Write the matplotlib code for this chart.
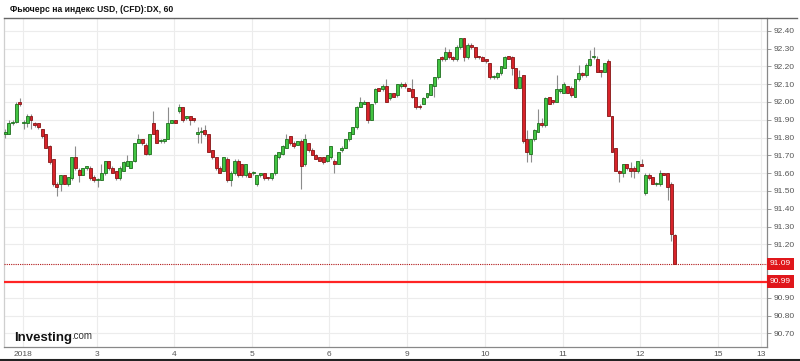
import numpy as np
import matplotlib.pyplot as plt
from matplotlib.transforms import blended_transform_factory

# hourly candles, USD index futures (2 Jan .. 12 Jan 2018)
opens = [91.82, 91.82, 91.88, 91.89, 92.00, 91.88, 91.88, 91.92, 91.88, 91.88,
         91.85, 91.82, 91.75, 91.68, 91.54, 91.54, 91.59, 91.54, 91.57, 91.69,
         91.62, 91.59, 91.63, 91.63, 91.58, 91.56, 91.56, 91.60, 91.67, 91.63,
         91.61, 91.57, 91.61, 91.64, 91.63, 91.67, 91.77, 91.79, 91.76, 91.71,
         91.88, 91.84, 91.78, 91.78, 91.79, 91.88, 91.90, 91.95, 91.97, 91.91,
         91.92, 91.91, 91.82, 91.83, 91.84, 91.82, 91.73, 91.69, 91.63, 91.61,
         91.68, 91.56, 91.60, 91.67, 91.65, 91.59, 91.60, 91.60, 91.54, 91.59,
         91.60, 91.58, 91.57, 91.60, 91.69, 91.71, 91.74, 91.81, 91.77, 91.76,
         91.78, 91.65, 91.77, 91.73, 91.70, 91.69, 91.69, 91.67, 91.69, 91.67,
         91.65, 91.73, 91.74, 91.79, 91.82, 91.86, 91.97, 91.99, 92.00, 91.90,
         92.00, 92.08, 92.07, 92.09, 92.02, 92.05, 92.04, 92.09, 92.10, 92.08,
         92.07, 92.03, 91.98, 91.99, 92.03, 92.04, 92.09, 92.14, 92.25, 92.24,
         92.28, 92.25, 92.24, 92.31, 92.36, 92.25, 92.32, 92.31, 92.26, 92.25,
         92.24, 92.22, 92.14, 92.14, 92.16, 92.19, 92.26, 92.25, 92.19, 92.08,
         92.15, 91.79, 91.71, 91.79, 91.83, 91.88, 91.87, 92.03, 92.01, 92.00,
         92.06, 92.05, 92.09, 92.08, 92.03, 92.13, 92.16, 92.15, 92.21, 92.25,
         92.24, 92.18, 92.17, 92.23, 91.92, 91.74, 91.61, 91.60, 91.65, 91.63,
         91.63, 91.61, 91.65, 91.49, 91.59, 91.58, 91.54, 91.54, 91.60, 91.60,
         91.54, 91.25]
highs = [91.85, 91.90, 91.90, 92.00, 92.02, 91.90, 91.93, 91.93, 91.89, 91.88,
         91.85, 91.82, 91.76, 91.68, 91.55, 91.59, 91.59, 91.58, 91.69, 91.75,
         91.63, 91.63, 91.64, 91.64, 91.59, 91.57, 91.65, 91.67, 91.67, 91.64,
         91.61, 91.64, 91.67, 91.70, 91.67, 91.77, 91.82, 91.79, 91.77, 91.82,
         91.95, 91.85, 91.79, 91.79, 91.97, 91.90, 91.90, 91.99, 91.97, 91.92,
         91.92, 91.91, 91.86, 91.86, 91.87, 91.82, 91.73, 91.69, 91.64, 91.69,
         91.69, 91.61, 91.68, 91.68, 91.65, 91.65, 91.61, 91.61, 91.59, 91.60,
         91.60, 91.58, 91.60, 91.71, 91.72, 91.76, 91.82, 91.81, 91.78, 91.78,
         91.79, 91.82, 91.77, 91.74, 91.71, 91.69, 91.69, 91.70, 91.75, 91.68,
         91.72, 91.75, 91.79, 91.83, 91.86, 91.98, 92.03, 92.01, 92.00, 91.99,
         92.08, 92.08, 92.10, 92.13, 92.05, 92.05, 92.10, 92.11, 92.11, 92.08,
         92.13, 92.03, 91.99, 92.03, 92.05, 92.10, 92.14, 92.24, 92.26, 92.31,
         92.30, 92.26, 92.32, 92.36, 92.36, 92.33, 92.33, 92.31, 92.26, 92.26,
         92.24, 92.22, 92.15, 92.17, 92.20, 92.26, 92.26, 92.26, 92.19, 92.18,
         92.15, 91.84, 91.79, 91.85, 91.96, 91.91, 92.03, 92.03, 92.01, 92.15,
         92.08, 92.11, 92.09, 92.09, 92.13, 92.21, 92.17, 92.22, 92.29, 92.31,
         92.26, 92.18, 92.22, 92.24, 91.92, 91.74, 91.62, 91.65, 91.65, 91.66,
         91.64, 91.67, 91.68, 91.60, 91.60, 91.58, 91.55, 91.62, 91.60, 91.60,
         91.55, 91.26]
lows = [91.80, 91.82, 91.87, 91.88, 91.98, 91.85, 91.86, 91.85, 91.86, 91.85,
        91.80, 91.74, 91.65, 91.53, 91.47, 91.50, 91.54, 91.53, 91.56, 91.62,
        91.55, 91.59, 91.62, 91.56, 91.55, 91.52, 91.56, 91.59, 91.62, 91.60,
        91.56, 91.56, 91.61, 91.64, 91.63, 91.66, 91.77, 91.76, 91.70, 91.70,
        91.82, 91.77, 91.77, 91.77, 91.79, 91.88, 91.88, 91.94, 91.89, 91.90,
        91.87, 91.89, 91.77, 91.77, 91.81, 91.72, 91.68, 91.62, 91.60, 91.61,
        91.55, 91.53, 91.59, 91.58, 91.58, 91.58, 91.58, 91.59, 91.53, 91.58,
        91.56, 91.56, 91.56, 91.59, 91.68, 91.70, 91.74, 91.76, 91.74, 91.76,
        91.51, 91.64, 91.72, 91.70, 91.68, 91.67, 91.65, 91.66, 91.68, 91.60,
        91.65, 91.72, 91.74, 91.78, 91.82, 91.85, 91.97, 91.99, 91.88, 91.90,
        91.99, 92.06, 92.06, 92.00, 92.01, 92.03, 92.03, 92.08, 92.08, 92.06,
        92.02, 91.96, 91.96, 91.99, 92.02, 92.04, 92.03, 92.13, 92.23, 92.23,
        92.24, 92.23, 92.23, 92.30, 92.23, 92.24, 92.30, 92.24, 92.24, 92.23,
        92.22, 92.13, 92.13, 92.13, 92.15, 92.19, 92.24, 92.15, 92.07, 92.08,
        91.77, 91.66, 91.66, 91.78, 91.83, 91.86, 91.86, 91.99, 91.99, 92.00,
        92.05, 92.05, 92.05, 92.03, 92.03, 92.12, 92.14, 92.14, 92.20, 92.24,
        92.17, 92.14, 92.17, 91.92, 91.72, 91.61, 91.55, 91.58, 91.62, 91.58,
        91.57, 91.60, 91.64, 91.48, 91.56, 91.54, 91.53, 91.53, 91.59, 91.45,
        91.22, 91.09]
closes = [91.83, 91.88, 91.89, 91.99, 91.99, 91.89, 91.92, 91.90, 91.87, 91.86,
          91.81, 91.74, 91.66, 91.54, 91.52, 91.59, 91.54, 91.58, 91.69, 91.63,
          91.59, 91.63, 91.64, 91.57, 91.56, 91.56, 91.60, 91.67, 91.63, 91.60,
          91.57, 91.63, 91.66, 91.67, 91.67, 91.77, 91.79, 91.77, 91.71, 91.82,
          91.82, 91.77, 91.78, 91.79, 91.88, 91.90, 91.88, 91.97, 91.90, 91.92,
          91.90, 91.90, 91.83, 91.83, 91.82, 91.72, 91.69, 91.63, 91.60, 91.69,
          91.56, 91.60, 91.67, 91.59, 91.59, 91.65, 91.58, 91.60, 91.59, 91.60,
          91.57, 91.57, 91.60, 91.70, 91.72, 91.75, 91.79, 91.77, 91.75, 91.78,
          91.64, 91.79, 91.73, 91.70, 91.68, 91.67, 91.66, 91.70, 91.75, 91.65,
          91.72, 91.74, 91.79, 91.83, 91.86, 91.97, 92.00, 92.00, 91.90, 91.99,
          92.07, 92.06, 92.09, 92.00, 92.05, 92.03, 92.10, 92.10, 92.09, 92.06,
          92.03, 91.97, 91.97, 92.02, 92.05, 92.10, 92.14, 92.24, 92.24, 92.28,
          92.25, 92.24, 92.31, 92.36, 92.25, 92.32, 92.31, 92.25, 92.25, 92.23,
          92.23, 92.14, 92.14, 92.16, 92.20, 92.25, 92.24, 92.19, 92.08, 92.14,
          91.78, 91.72, 91.79, 91.84, 91.88, 91.87, 92.02, 91.99, 92.00, 92.07,
          92.07, 92.10, 92.05, 92.04, 92.13, 92.16, 92.15, 92.21, 92.24, 92.26,
          92.17, 92.17, 92.22, 91.92, 91.72, 91.61, 91.60, 91.65, 91.63, 91.61,
          91.61, 91.67, 91.64, 91.59, 91.57, 91.54, 91.54, 91.60, 91.59, 91.52,
          91.26, 91.09]

day_labels = ['2018', '3', '4', '5', '6', '9', '10', '11', '12', '15', '13']
day_pos = [4.75, 24.75, 45.73, 66.81, 87.62, 108.7, 129.8, 150.7, 171.6, 192.6, 204.3]
# 91.00 and 91.10 are hidden behind the price boxes in the original
price_ticks = [90.70, 90.80, 90.90, 91.20, 91.30, 91.40, 91.50,
               91.60, 91.70, 91.80, 91.90, 92.00, 92.10, 92.20, 92.30, 92.40]
last_price = 91.09
level_price = 90.99

fig = plt.figure(figsize=(8, 3.61), dpi=100)
ax = fig.add_axes([4 / 800, 14.3 / 361, 762.7 / 800, 328.4 / 361])

x = np.arange(len(opens))
o = np.array(opens)
c = np.array(closes)
up = c >= o

ax.vlines(x, lows, highs, color='#8c8c8c', lw=0.8, zorder=2)
bottom = np.minimum(o, c)
height = np.maximum(np.abs(c - o), 0.006)
ax.bar(x[up], height[up], bottom=bottom[up], width=0.8,
       color='#42c442', edgecolor='#1e6e1e', lw=0.6, zorder=3)
ax.bar(x[~up], height[~up], bottom=bottom[~up], width=0.8,
       color='#d8232a', edgecolor='#861515', lw=0.6, zorder=3)

# current price and level lines
ax.axhline(last_price, color='#b01818', lw=0.8, ls=(0, (1, 1)), zorder=4)
ax.axhline(level_price, color='#ff2424', lw=1.6, zorder=4)
trans = blended_transform_factory(ax.transAxes, ax.transData)
for val in [last_price, level_price]:
    ax.text(1.004, val, f'{val:.2f}', transform=trans, ha='left', va='center',
            fontsize=6, color='white', family='Liberation Sans', zorder=5,
            bbox=dict(boxstyle='square,pad=0.35', fc='#e0161b', ec='none'),
            clip_on=False)

ax.set_xlim(-0.3, 205.8)
ax.set_ylim(90.625, 92.47)
ax.set_xticks(day_pos)
ax.set_xticklabels(day_labels)
ax.set_yticks(price_ticks)
ax.set_yticklabels([f'{p:.2f}' for p in price_ticks])
ax.yaxis.tick_right()
ax.tick_params(axis='y', length=3, width=0.6, color='#888', labelsize=6,
               labelcolor='#555', pad=2)
ax.tick_params(axis='x', length=0, labelsize=6, labelcolor='#555', pad=3)
for lab in ax.get_xticklabels() + ax.get_yticklabels():
    lab.set_family('Liberation Sans')
ax.grid(True, color='#ececec', lw=0.8, zorder=0)
ax.set_axisbelow(True)

ax.spines['left'].set_color('#cfcfcf')
ax.spines['right'].set_color('#888')
ax.spines['bottom'].set_color('#888')
ax.spines['top'].set_visible(False)
for s in ['left', 'right', 'bottom']:
    ax.spines[s].set_linewidth(0.9)

# top border runs over the label column too
fig.add_artist(plt.Line2D([4 / 800, 797 / 800], [342.7 / 361, 342.7 / 361],
                          color='#666', lw=1.0))
fig.add_artist(plt.Line2D([0, 1], [1.5 / 361, 1.5 / 361], color='#222', lw=1.5))

fig.text(10 / 800, 1 - 5 / 361, 'Фьючерс на индекс USD, (CFD):DX, 60',
         fontsize=6.2, fontweight='bold', family='Liberation Sans',
         va='top', ha='left', color='#111')

fig.text(14 / 800, 1 - 341 / 361, 'Investing', fontsize=9.5, fontweight='bold',
         family='Liberation Sans', color='#111', va='baseline')
fig.text(71 / 800, 1 - 339 / 361, '.com', fontsize=7, family='Liberation Sans',
         color='#333', va='baseline')

fig.savefig('out.png', dpi=100)
